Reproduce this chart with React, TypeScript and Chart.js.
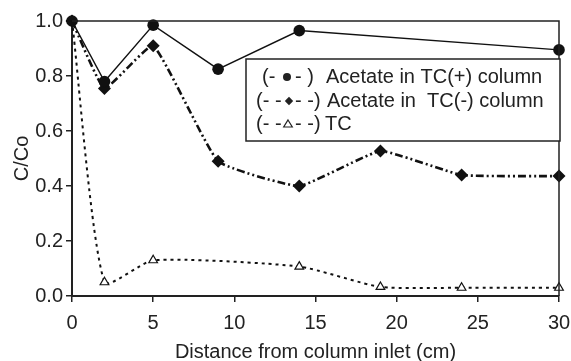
import React, { useEffect, useRef } from 'react';
import { Chart, registerables } from 'chart.js';

Chart.register(...registerables);

// Distance from column inlet (cm) and C/Co values
const tcPlusX = [0, 2, 5, 9, 14, 30];
const tcPlusY = [1.0, 0.78, 0.985, 0.825, 0.965, 0.895];

const tcMinusX = [0, 2, 5, 9, 14, 19, 24, 30];
const tcMinusY = [1.0, 0.755, 0.91, 0.49, 0.4, 0.527, 0.44, 0.436];

const tcX = [0, 2, 5, 14, 19, 24, 30];
const tcY = [1.0, 0.05, 0.13, 0.107, 0.033, 0.03, 0.03];

const xTicks = [0, 5, 10, 15, 20, 25, 30];
const yTicks = [0, 0.2, 0.4, 0.6, 0.8, 1.0];

const legendLabels = [
  { pre: '(- ', post: '- )', text: 'Acetate in TC(+) column', marker: 'circle' },
  { pre: '(- -', post: '- -)', text: 'Acetate in  TC(-) column', marker: 'diamond' },
  { pre: '(- -', post: '- -)', text: 'TC', marker: 'triangle' },
];

const FONT = '"Liberation Sans", Arial, Helvetica, sans-serif';
const FS = 20;

const toPoints = (xs: number[], ys: number[]) => xs.map((x, i) => ({ x, y: ys[i] }));

const frameAndLegend = {
  id: 'frameAndLegend',
  afterDatasetsDraw(chart: any) {
    const { ctx, chartArea } = chart;
    ctx.save();
    // plot frame (top and right)
    ctx.strokeStyle = '#222';
    ctx.lineWidth = 1.5;
    ctx.beginPath();
    ctx.moveTo(chartArea.left, chartArea.top);
    ctx.lineTo(chartArea.right, chartArea.top);
    ctx.lineTo(chartArea.right, chartArea.bottom);
    ctx.stroke();

    // legend box
    const bx = 246, by = 59, bw = 314, bh = 82;
    ctx.fillStyle = '#fff';
    ctx.fillRect(bx, by, bw, bh);
    ctx.lineWidth = 1.5;
    ctx.strokeStyle = '#222';
    ctx.strokeRect(bx, by, bw, bh);

    ctx.fillStyle = '#222';
    ctx.font = `${FS}px ${FONT}`;
    ctx.textBaseline = 'middle';
    ctx.textAlign = 'left';
    const rows = [
      { y: 77, preX: 262, mX: 287, postX: 295, textX: 326 },
      { y: 101, preX: 256, mX: 289, postX: 295, textX: 327 },
      { y: 124, preX: 256, mX: 288, postX: 295, textX: 325 },
    ];
    legendLabels.forEach((l, i) => {
      const r = rows[i];
      ctx.fillText(l.pre, r.preX, r.y);
      ctx.fillText(l.post, r.postX, r.y);
      ctx.fillText(l.text, r.textX, r.y);
      ctx.beginPath();
      if (l.marker === 'circle') {
        ctx.arc(r.mX, r.y, 4, 0, Math.PI * 2);
        ctx.fill();
      } else if (l.marker === 'diamond') {
        ctx.moveTo(r.mX, r.y - 4.2);
        ctx.lineTo(r.mX + 4.2, r.y);
        ctx.lineTo(r.mX, r.y + 4.2);
        ctx.lineTo(r.mX - 4.2, r.y);
        ctx.closePath();
        ctx.fill();
      } else {
        ctx.lineWidth = 1.2;
        ctx.moveTo(r.mX, r.y - 4);
        ctx.lineTo(r.mX + 4.3, r.y + 3);
        ctx.lineTo(r.mX - 4.3, r.y + 3);
        ctx.closePath();
        ctx.stroke();
      }
    });
    ctx.restore();
  },
};

export default function App() {
  const ref = useRef<HTMLCanvasElement | null>(null);

  useEffect(() => {
    if (!ref.current) return;
    const chart = new Chart(ref.current, {
      type: 'line',
      data: {
        datasets: [
          {
            label: 'Acetate in TC(+) column',
            data: toPoints(tcPlusX, tcPlusY),
            borderColor: '#111',
            backgroundColor: '#111',
            borderWidth: 1.5,
            pointStyle: 'circle',
            pointRadius: 5.8,
            pointBorderWidth: 0,
            tension: 0,
            clip: false,
          },
          {
            label: 'Acetate in TC(-) column',
            data: toPoints(tcMinusX, tcMinusY),
            borderColor: '#111',
            backgroundColor: '#111',
            borderWidth: 2.6,
            borderDash: [8, 3, 2, 3, 2, 3],
            pointStyle: 'rectRot',
            pointRadius: 6.5,
            pointBorderWidth: 0,
            tension: 0.12,
            clip: false,
          },
          {
            label: 'TC',
            data: toPoints(tcX, tcY),
            borderColor: '#111',
            backgroundColor: '#fff',
            pointBorderColor: '#111',
            borderWidth: 2,
            borderDash: [3, 4],
            pointStyle: 'triangle',
            pointRadius: 5,
            pointBorderWidth: 1.2,
            tension: 0.2,
            clip: false,
          },
        ],
      },
      options: {
        animation: false,
        responsive: true,
        maintainAspectRatio: false,
        layout: { padding: { left: 0, right: 12, top: 21, bottom: 0 } },
        plugins: {
          legend: { display: false },
          tooltip: { enabled: false },
        },
        scales: {
          x: {
            type: 'linear',
            min: 0,
            max: 30,
            afterBuildTicks: (s: any) => {
              s.ticks = xTicks.map((v) => ({ value: v }));
            },
            afterFit: (s: any) => {
              s.height = 65;
              s.paddingLeft = 0;
              s.paddingRight = 0;
            },
            ticks: {
              color: '#222',
              font: { family: FONT, size: FS },
              padding: 9,
              maxRotation: 0,
            },
            grid: {
              display: true,
              drawOnChartArea: false,
              drawTicks: true,
              tickLength: 6,
              color: '#222',
              lineWidth: 1.5,
            },
            border: { display: true, color: '#222', width: 2 },
            title: {
              display: true,
              text: 'Distance from column inlet (cm)',
              color: '#222',
              font: { family: FONT, size: FS, lineHeight: 0.85 },
              padding: { top: 0, bottom: 0 },
            },
          },
          y: {
            type: 'linear',
            min: 0,
            max: 1,
            afterBuildTicks: (s: any) => {
              s.ticks = yTicks.map((v) => ({ value: v }));
            },
            afterFit: (s: any) => {
              s.width = 72;
              s.paddingTop = 0;
              s.paddingBottom = 0;
            },
            ticks: {
              color: '#222',
              font: { family: FONT, size: FS },
              padding: 3,
              callback: (v: any) => Number(v).toFixed(1),
            },
            grid: {
              display: true,
              drawOnChartArea: false,
              drawTicks: true,
              tickLength: 6,
              color: '#222',
              lineWidth: 1.5,
            },
            border: { display: true, color: '#222', width: 2 },
            title: {
              display: true,
              text: 'C/Co',
              color: '#222',
              font: { family: FONT, size: FS, lineHeight: 1 },
              padding: { top: 12, bottom: 0 },
            },
          },
        },
      },
      plugins: [frameAndLegend],
    });
    return () => chart.destroy();
  }, []);

  return (
    <div style={{ position: 'fixed', left: 0, top: 0, width: 571, height: 361, background: '#fff' }}>
      <canvas ref={ref} />
    </div>
  );
}
